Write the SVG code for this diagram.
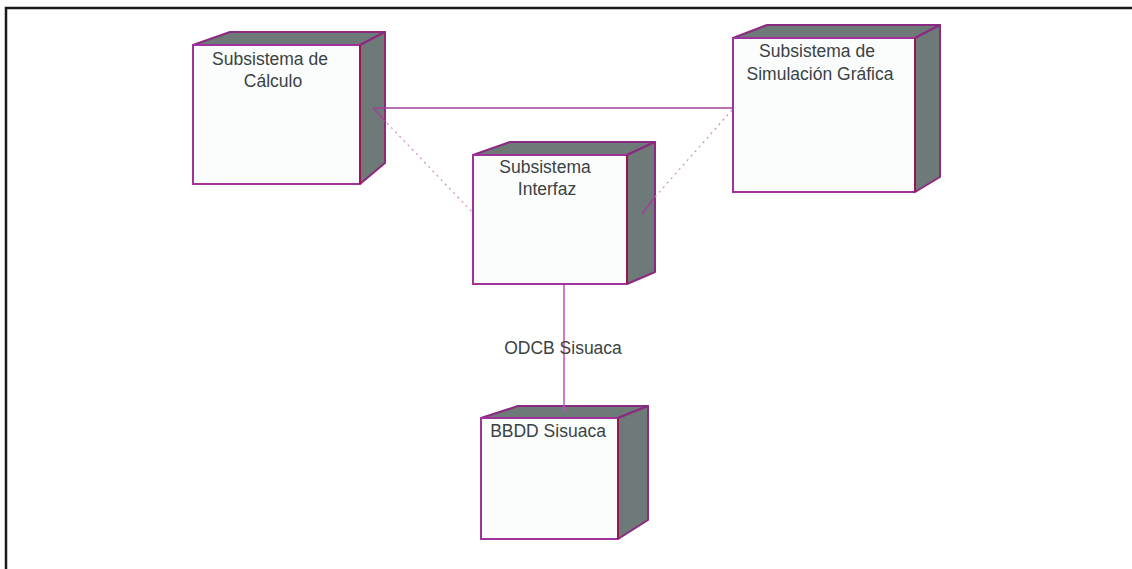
<svg xmlns="http://www.w3.org/2000/svg" width="1132" height="569" viewBox="0 0 1132 569">
<style>
.front{fill:#fbfdfd;stroke:#a0329b;stroke-width:2}
.shade{fill:#6e7a78;stroke:#8a2a80;stroke-width:2;stroke-linejoin:round}
.edge{stroke:#9c1450;stroke-width:2}
.lbl{font-family:"Liberation Sans",Arial,sans-serif;font-size:17.5px;fill:#3a4242;text-anchor:middle}
.solid{stroke:#a0409a;stroke-width:1.5;fill:none}
.dot{stroke:#d090cc;stroke-width:1.3;stroke-dasharray:2 4;fill:none}
</style>
<rect width="1132" height="569" fill="#ffffff"/>
<path d="M6 569 V8 H1132" fill="none" stroke="#1a1a1a" stroke-width="2.5"/>
<g id="node-calculo">
<polygon class="shade" points="193,45 230,32 385,32 360,45"/>
<polygon class="shade" points="360,45 385,32 385,163 360,184"/>
<rect class="front" x="193" y="45" width="167" height="139"/>
<line class="edge" x1="360" y1="45" x2="360" y2="184"/>
<text class="lbl" x="270" y="65">Subsistema de</text>
<text class="lbl" x="273" y="87">Cálculo</text>
</g>
<g id="node-interfaz">
<polygon class="shade" points="473,155 510,142 655,142 627,155"/>
<polygon class="shade" points="627,155 655,142 655,272 627,284"/>
<rect class="front" x="473" y="155" width="154" height="129"/>
<line class="edge" x1="627" y1="155" x2="627" y2="284"/>
<text class="lbl" x="545" y="173">Subsistema</text>
<text class="lbl" x="547" y="195">Interfaz</text>
</g>
<g id="node-simulacion">
<polygon class="shade" points="733,38 767,25 940,25 915,38"/>
<polygon class="shade" points="915,38 940,25 940,177 915,192"/>
<rect class="front" x="733" y="38" width="182" height="154"/>
<line class="edge" x1="915" y1="38" x2="915" y2="192"/>
<text class="lbl" x="817" y="57">Subsistema de</text>
<text class="lbl" x="820" y="80">Simulación Gráfica</text>
</g>
<g id="node-bbdd">
<polygon class="shade" points="481,418 518,406 648,406 618,418"/>
<polygon class="shade" points="618,418 648,406 648,520 618,539"/>
<rect class="front" x="481" y="418" width="137" height="121"/>
<line class="edge" x1="618" y1="418" x2="618" y2="539"/>
<text class="lbl" x="548" y="437">BBDD Sisuaca</text>
</g>
<g id="connectors">
<line class="solid" x1="373" y1="108" x2="733" y2="108"/>
<line class="solid" x1="373" y1="108" x2="386" y2="122"/>
<line class="dot" x1="387" y1="123" x2="473" y2="213"/>
<line class="dot" x1="732" y1="110" x2="655" y2="197"/>
<line class="solid" x1="655" y1="197" x2="642" y2="214"/>
<line stroke="#c050c0" stroke-width="1.5" x1="564" y1="285" x2="564" y2="412"/>
<text class="lbl" x="563" y="354">ODCB Sisuaca</text>
</g>
</svg>
